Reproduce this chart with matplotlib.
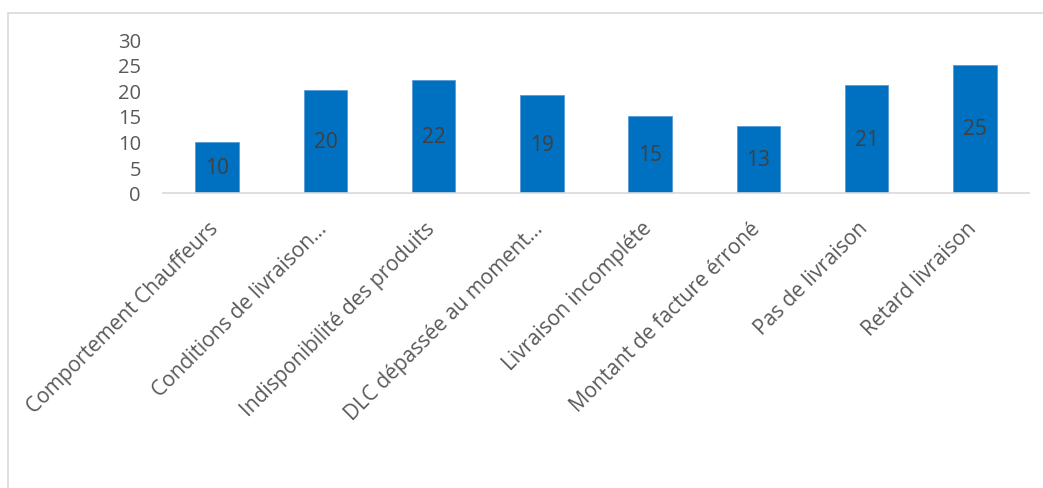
import matplotlib.pyplot as plt
import matplotlib.transforms as mtransforms
from matplotlib.patches import Rectangle

categories = ['Comportement Chauffeurs', 'Conditions de livraison…',
              'Indisponibilité des produits', 'DLC dépassée au moment…',
              'Livraison incompléte', 'Montant de facture érroné',
              'Pas de livraison', 'Retard livraison']
values = [10, 20, 22, 19, 15, 13, 21, 25]
yticks = [0, 5, 10, 15, 20, 25, 30]

plt.rcParams['font.family'] = ['Open Sans', 'DejaVu Sans']
text_col = '#595959'

fig = plt.figure(figsize=(10.43, 4.89), dpi=100)
# chart frame (partly cut by the image edge)
fig.patches.append(Rectangle((8 / 1043, -0.1), 1.2, 0.1 + (489 - 14) / 489,
                             transform=fig.transFigure, fill=False,
                             edgecolor='#D9D9D9', linewidth=1.2))

ax = fig.add_axes([0.1563, 0.6033, 0.8303, 0.3149])
x = range(len(categories))
bars = ax.bar(x, values, width=0.4, color='#0070C0', edgecolor='#5B9BD5',
              linewidth=0.6, zorder=2)
for b, v in zip(bars, values):
    ax.text(b.get_x() + b.get_width() / 2, v / 2, str(v), ha='center',
            va='center', fontsize=15, color='#404040')

ax.set_xlim(-0.5, len(categories) - 0.5)
ax.set_ylim(0, 30)
ax.set_yticks(yticks)
ax.set_xticks(list(x))
ax.set_xticklabels(categories, rotation=45, ha='right', rotation_mode='anchor',
                   fontsize=15, color=text_col)
ax.tick_params(axis='y', length=0, labelsize=14.5, labelcolor=text_col, pad=16)
ax.tick_params(axis='x', length=0, pad=14)
shift = mtransforms.ScaledTranslation(-9 / 100, -5 / 100, fig.dpi_scale_trans)
for lbl in ax.get_xticklabels():
    lbl.set_transform(lbl.get_transform() + shift)
for s in ['top', 'right', 'left']:
    ax.spines[s].set_visible(False)
ax.spines['bottom'].set_color('#D9D9D9')
ax.spines['bottom'].set_linewidth(1.2)

fig.savefig('out.png', dpi=100)
